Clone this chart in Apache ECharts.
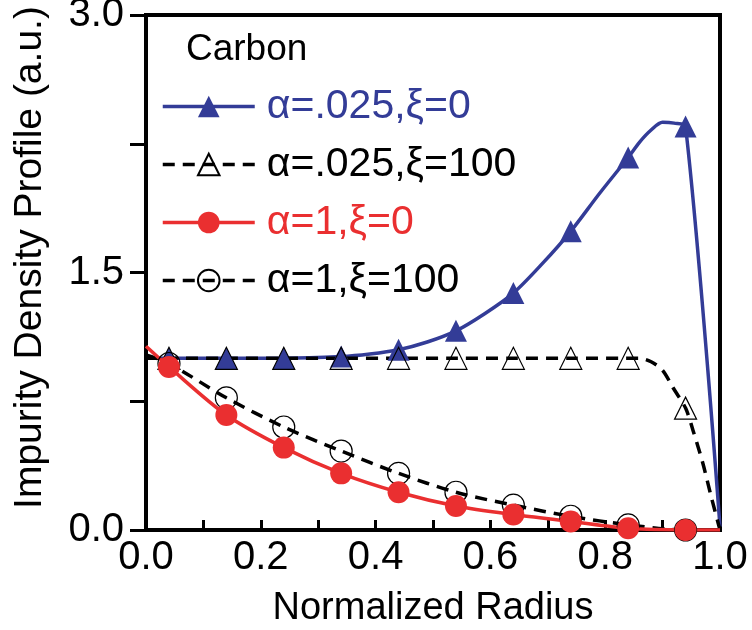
<!DOCTYPE html>
<html><head><meta charset="utf-8">
<script src="https://cdn.jsdelivr.net/npm/echarts@6/dist/echarts.min.js"></script>
<style>html,body{margin:0;padding:0;background:#fff}#c{width:752px;height:630px}</style>
</head><body><div id="c"></div>
<script>
// ---- data ----
const markerX = [0.04, 0.14, 0.24, 0.34, 0.44, 0.54, 0.64, 0.74, 0.84, 0.94];

const blueName = 'α=.025,ξ=0';
const blueX = [0, 0.04, 0.14, 0.24, 0.34, 0.39, 0.44, 0.49, 0.54, 0.59, 0.64, 0.69, 0.74, 0.79, 0.84, 0.86, 0.88, 0.90, 0.92, 0.94, 1.0];
const blueY = [1.0, 1.0, 1.0, 1.0, 1.01, 1.025, 1.05, 1.095, 1.16, 1.26, 1.38, 1.55, 1.74, 1.96, 2.17, 2.26, 2.33, 2.375, 2.37, 2.35, 0.02];

const triOpenName = 'α=.025,ξ=100';
const triOpenX = [0, 0.04, 0.14, 0.24, 0.34, 0.44, 0.54, 0.64, 0.74, 0.84, 0.86, 0.88, 0.90, 0.918, 0.94, 0.953, 0.97, 0.985, 1.0];
const triOpenY = [1.0, 1.0, 1.0, 1.0, 1.0, 1.0, 1.0, 1.0, 1.0, 1.0, 1.0, 0.98, 0.93, 0.83, 0.71, 0.58, 0.39, 0.19, 0.0];

const redName = 'α=1,ξ=0';
const redX = [0, 0.04, 0.14, 0.24, 0.34, 0.44, 0.54, 0.64, 0.74, 0.84, 0.94, 1.0];
const redY = [1.07, 0.95, 0.67, 0.48, 0.33, 0.22, 0.14, 0.09, 0.05, 0.01, 0.0, 0.0];

const circOpenName = 'α=1,ξ=100';
const circOpenX = [0, 0.04, 0.14, 0.24, 0.34, 0.44, 0.54, 0.64, 0.74, 0.84, 0.94, 1.0];
const circOpenY = [1.02, 0.97, 0.77, 0.60, 0.46, 0.33, 0.22, 0.145, 0.08, 0.03, 0.0, 0.0];

const xTickLabels = ['0.0', '0.2', '0.4', '0.6', '0.8', '1.0'];
const yTickLabels = ['0.0', '1.5', '3.0'];
// ---------------------------------------

const BLUE = '#333c97', RED = '#ea2f30';
const SANS = "'Liberation Sans',Arial,sans-serif";

function build(xs, ys) {
  return xs.map((x, i) => {
    const item = { value: [x, ys[i]] };
    if (!markerX.includes(x)) item.symbol = 'none';
    return item;
  });
}

const chart = echarts.init(document.getElementById('c'), null, { renderer: 'canvas' });
chart.setOption({
  animation: false,
  backgroundColor: '#fff',
  title: {
    text: 'Carbon', left: 181, top: 26,
    textStyle: { fontFamily: SANS, fontSize: 37, fontWeight: 'normal', color: '#000' }
  },
  legend: {
    orient: 'vertical', left: 156, top: 81,
    itemWidth: 92, itemHeight: 27, itemGap: 17,
    lineStyle: { width: 3.5 },
    textStyle: { fontFamily: SANS, fontSize: 41, lineHeight: 27, padding: [0, 0, 0, 7] },
    data: [
      { name: blueName, textStyle: { color: BLUE } },
      { name: triOpenName, textStyle: { color: '#000' } },
      { name: redName, textStyle: { color: RED } },
      { name: circOpenName, textStyle: { color: '#000' } }
    ]
  },
  grid: {
    left: 146, right: 32, top: 15, bottom: 100,
    outerBoundsMode: 'none', containLabel: false,
    show: true, borderColor: '#000', borderWidth: 4, backgroundColor: 'transparent'
  },
  xAxis: {
    type: 'value', min: 0, max: 1, interval: 0.1,
    name: 'Normalized Radius', nameLocation: 'middle', nameGap: 60,
    nameTextStyle: { fontFamily: SANS, fontSize: 38, color: '#000' },
    axisLine: { lineStyle: { color: '#000', width: 4 } },
    axisTick: { inside: true, length: 10, lineStyle: { color: '#000', width: 3 } },
    axisLabel: {
      margin: 8, fontFamily: SANS, fontSize: 40, color: '#000',
      formatter: v => { const k = Math.round(v * 10); return k % 2 === 0 ? xTickLabels[k / 2] : ''; }
    },
    splitLine: { show: false }
  },
  yAxis: {
    type: 'value', min: 0, max: 3, interval: 0.75,
    name: 'Impurity Density Profile (a.u.)', nameLocation: 'middle', nameRotate: 90, nameGap: 96,
    nameTextStyle: { fontFamily: SANS, fontSize: 39, color: '#000', padding: [0, 0, 0, 30] },
    axisLine: { lineStyle: { color: '#000', width: 4 } },
    axisTick: { inside: false, length: 16, lineStyle: { color: '#000', width: 3 } },
    axisLabel: {
      margin: 22, fontFamily: SANS, fontSize: 40, color: '#000',
      formatter: v => { const k = Math.round(v / 0.75); return k % 2 === 0 ? yTickLabels[k / 2] : ''; }
    },
    splitLine: { show: false }
  },
  series: [
    {
      name: blueName, type: 'line', smooth: 0.3,
      data: build(blueX, blueY),
      symbol: 'triangle', symbolSize: 22,
      lineStyle: { color: BLUE, width: 3.5 },
      itemStyle: { color: BLUE }
    },
    {
      name: triOpenName, type: 'line', smooth: 0.3,
      data: build(triOpenX, triOpenY),
      symbol: 'triangle', symbolSize: 22,
      lineStyle: { color: '#000', width: 3.5, type: [12, 8] },
      itemStyle: { color: 'rgba(255,255,255,0)', borderColor: '#000', borderWidth: 1.2 }
    },
    {
      name: circOpenName, type: 'line', smooth: 0.3,
      data: build(circOpenX, circOpenY),
      symbol: 'circle', symbolSize: 22,
      lineStyle: { color: '#000', width: 3.5, type: [12, 8] },
      itemStyle: { color: 'rgba(255,255,255,0)', borderColor: '#000', borderWidth: 1.2 }
    },
    {
      name: redName, type: 'line', smooth: 0.3,
      data: build(redX, redY),
      symbol: 'circle', symbolSize: 22,
      lineStyle: { color: RED, width: 3.5 },
      itemStyle: { color: RED }
    }
  ]
});
</script>
</body></html>
